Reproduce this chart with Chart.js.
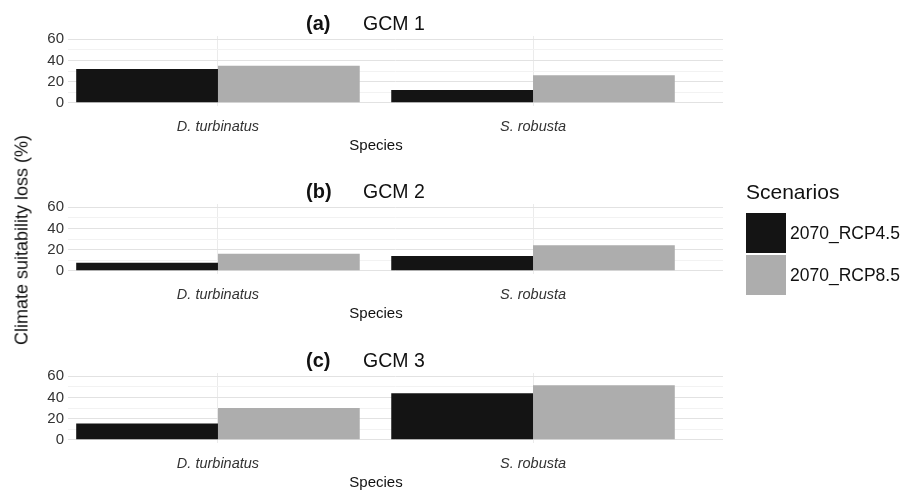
<!DOCTYPE html>
<html>
<head>
<meta charset="utf-8">
<script src="https://cdn.jsdelivr.net/npm/chart.js@4.4.1/dist/chart.umd.min.js"></script>
<style>
  body { margin: 0; background: #fff; width: 917px; height: 492px; overflow: hidden; position: relative; font-family: "Liberation Sans", Arial, sans-serif; }
  canvas { position: absolute; left: 0; }
  #ytitle { position: absolute; left: 22px; top: 240px; transform: translate(-50%, -50%) rotate(-90deg); white-space: nowrap; font-size: 18px; color: #111; }
  #legend { position: absolute; left: 746px; top: 180px; color: #111; }
  #legend .ttl { font-size: 21px; line-height: 24px; margin-bottom: 9px; }
  #legend .row { display: flex; align-items: center; height: 40px; margin-bottom: 2px; }
  #legend .box { width: 40px; height: 40px; margin-right: 4px; }
  #legend .lab { font-size: 17.5px; }
</style>
</head>
<body>
<canvas id="c0" width="750" height="156" style="top:0px"></canvas>
<canvas id="c1" width="750" height="156" style="top:168px"></canvas>
<canvas id="c2" width="750" height="156" style="top:337px"></canvas>
<div id="ytitle">Climate suitability loss (%)</div>
<div id="legend"></div>
<script>
var species = ['D. turbinatus', 'S. robusta'];
var scenarios = ['2070_RCP4.5', '2070_RCP8.5'];
var scenarioColors = ['#141414', '#adadad'];
var panelTags = ['(a)', '(b)', '(c)'];
var panelNames = ['GCM 1', 'GCM 2', 'GCM 3'];
var yTicks = [0, 10, 20, 30, 40, 50, 60];

// loss (%) per species, one array per GCM and scenario
var gcm1Rcp45 = [32, 12];
var gcm1Rcp85 = [35, 26];
var gcm2Rcp45 = [7.5, 14];
var gcm2Rcp85 = [16, 24];
var gcm3Rcp45 = [15.5, 44];
var gcm3Rcp85 = [30, 51.5];
var panelValues = [[gcm1Rcp45, gcm1Rcp85], [gcm2Rcp45, gcm2Rcp85], [gcm3Rcp45, gcm3Rcp85]];

var FONT = '"Liberation Sans", Arial, sans-serif';

// panel heading and x axis title
var panelText = {
    id: 'panelText',
    afterDraw: function (chart, args, opts) {
        var ctx = chart.ctx;
        ctx.save();
        ctx.fillStyle = '#111';
        ctx.textBaseline = 'alphabetic';
        ctx.textAlign = 'left';
        ctx.font = 'bold 20px ' + FONT;
        ctx.fillText(opts.tag, 306, 30);
        ctx.font = '19.5px ' + FONT;
        ctx.fillText(opts.name, 363, 30);
        ctx.font = '15px ' + FONT;
        ctx.textAlign = 'center';
        ctx.textBaseline = 'middle';
        ctx.fillText('Species', 376, 146);
        ctx.restore();
    }
};

function toPoints(values) {
    var pts = [];
    for (var i = 0; i < values.length; ++i) {
        pts.push({x: i, y: values[i]});
    }
    return pts;
}

for (var p = 0; p < 3; ++p) {
    var datasets = [];
    for (var s = 0; s < scenarios.length; ++s) {
        datasets.push({
            label: scenarios[s],
            data: toPoints(panelValues[p][s]),
            backgroundColor: scenarioColors[s],
            borderWidth: 0,
            categoryPercentage: 0.9,
            barPercentage: 1.0
        });
    }
    new Chart(document.getElementById('c' + p), {
        type: 'bar',
        data: {datasets: datasets},
        plugins: [panelText],
        options: {
            responsive: false,
            animation: false,
            devicePixelRatio: 1,
            layout: {padding: {top: 36, right: 27, left: 0, bottom: 0}},
            plugins: {
                legend: {display: false},
                tooltip: {enabled: false},
                panelText: {tag: panelTags[p], name: panelNames[p]}
            },
            scales: {
                x: {
                    type: 'linear',
                    offset: false,
                    min: -0.476,
                    max: 1.603,
                    afterBuildTicks: function (scale) {
                        scale.ticks = species.map(function (n, i) { return {value: i}; });
                    },
                    afterFit: function (scale) { scale.height = 50; },
                    border: {display: false},
                    grid: {color: '#ebebeb', lineWidth: 1, drawTicks: false, offset: false},
                    ticks: {
                        autoSkip: false,
                        maxRotation: 0,
                        padding: 12,
                        color: '#333',
                        font: {family: FONT, size: 14.5, style: 'italic'},
                        callback: function (v) { return species[v]; }
                    }
                },
                y: {
                    min: -3,
                    max: 63,
                    afterBuildTicks: function (scale) {
                        scale.ticks = yTicks.map(function (v) { return {value: v}; });
                    },
                    afterFit: function (scale) { scale.width = 68; },
                    border: {display: false},
                    grid: {
                        drawTicks: false,
                        lineWidth: 1,
                        color: function (c) { return c.tick.value % 20 === 0 ? '#e2e2e2' : '#f2f2f2'; }
                    },
                    ticks: {
                        autoSkip: false,
                        padding: 4,
                        color: '#333',
                        font: {family: FONT, size: 15},
                        callback: function (v) { return v % 20 === 0 ? String(v) : ''; }
                    }
                }
            }
        }
    });
}

var legend = document.getElementById('legend');
var html = '<div class="ttl">Scenarios</div>';
for (var k = 0; k < scenarios.length; ++k) {
    html += '<div class="row"><div class="box" style="background:' + scenarioColors[k] + '"></div><div class="lab">' + scenarios[k] + '</div></div>';
}
legend.innerHTML = html;
</script>
</body>
</html>
